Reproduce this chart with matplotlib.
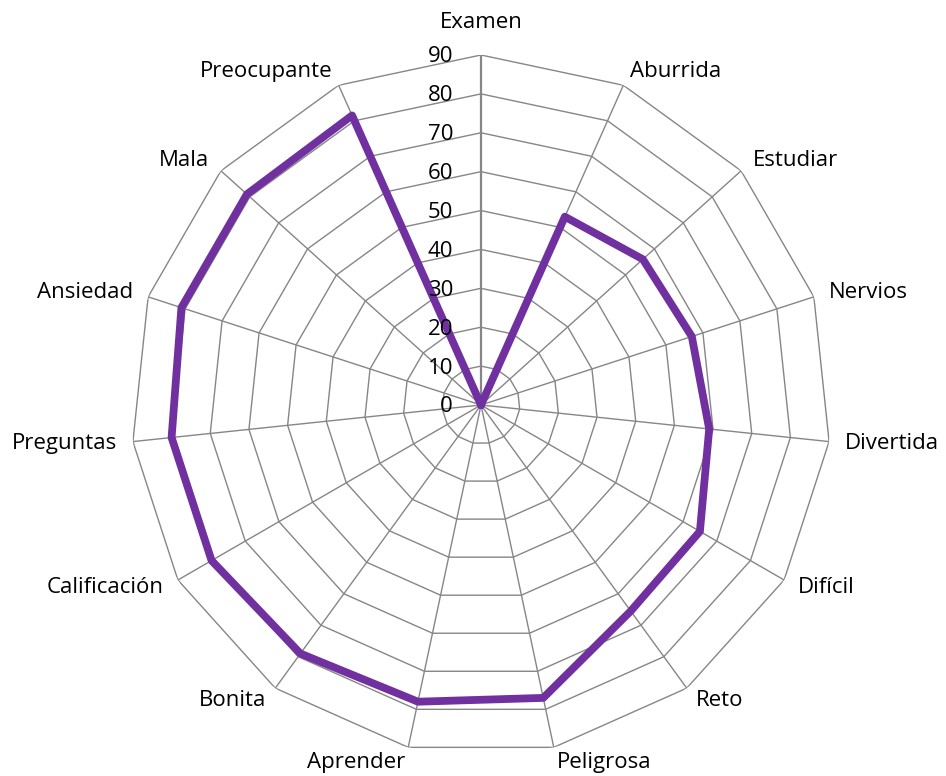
import numpy as np
import matplotlib
matplotlib.use("Agg")
import matplotlib.pyplot as plt

categories = ["Examen", "Aburrida", "Estudiar", "Nervios", "Divertida", "Difícil", "Reto",
              "Peligrosa", "Aprender", "Bonita", "Calificación", "Preguntas", "Ansiedad",
              "Mala", "Preocupante"]
values = [0, 53, 56, 57, 59, 65, 65.5, 77, 78, 79, 80, 80, 81, 81, 81.5]
ticks = [0, 10, 20, 30, 40, 50, 60, 70, 80, 90]

plt.rcParams['font.family'] = ['Open Sans', 'DejaVu Sans']

W, H = 946, 776
fig = plt.figure(figsize=(W / 100, H / 100), dpi=100)
cx, cy, R = 481, 405, 350
ax = fig.add_axes([(cx - R) / W, (H - cy - R) / H, 2 * R / W, 2 * R / H], projection='polar')
ax.set_theta_zero_location('N')
ax.set_theta_direction(-1)
ax.set_ylim(0, 90)
ax.grid(False)
ax.spines['polar'].set_visible(False)
ax.set_xticks([])
ax.set_yticks([])
ax.patch.set_alpha(0)

n = len(categories)
angles = np.arange(n) * 2 * np.pi / n
closed = np.append(angles, angles[0])
grid_c = '#868686'

for lv in ticks[1:]:
    ax.plot(closed, [lv] * (n + 1), color=grid_c, lw=1.0, zorder=1)
for i, a in enumerate(angles):
    ax.plot([a, a], [0, 90], color=grid_c, lw=1.6 if i == 0 else 1.0, zorder=1)

vals_closed = values + [values[0]]
ax.plot(closed, vals_closed, color='#7030A0', lw=5.6, solid_joinstyle='round',
        solid_capstyle='round', zorder=3)

for t in ticks:
    ax.annotate(str(t), xy=(0, t), textcoords='offset pixels', xytext=(-28, -2),
                ha='right', va='center', fontsize=16, color='black', zorder=4,
                annotation_clip=False)

for a, name in zip(angles, categories):
    s, c = np.sin(a), np.cos(a)
    if abs(s) < 1e-6:
        ha = 'center'
        off = (0, 33)
    elif s > 0:
        ha = 'left'
        off = (16 * s, 15 * c)
    else:
        ha = 'right'
        off = (16 * s, 15 * c)
    ax.annotate(name, xy=(a, 90), textcoords='offset pixels', xytext=off,
                ha=ha, va='center', fontsize=16, color='black', annotation_clip=False)

fig.savefig('out.png', dpi=100, facecolor='white')
